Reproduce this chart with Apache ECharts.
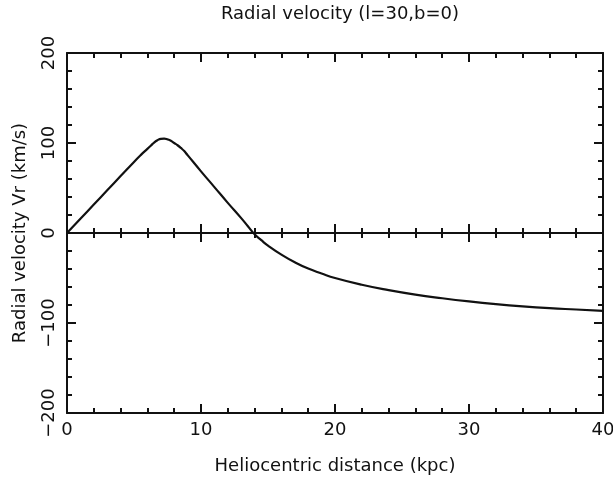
<!DOCTYPE html>
<html>
<head>
<meta charset="utf-8">
<script src="https://cdn.jsdelivr.net/npm/echarts@6/dist/echarts.min.js"></script>
<style>
  html, body { margin: 0; padding: 0; background: #fff; }
  #chart { width: 613px; height: 484px; }
</style>
</head>
<body>
<div id="chart"></div>
<script>
// Radial velocity along the line of sight l=30, b=0
const distanceKpc = [0, 1, 2, 3, 4, 5, 5.5, 6, 6.25, 6.5, 6.75, 7, 7.25, 7.5, 7.75, 8, 8.25, 8.5, 8.75, 9, 10, 11, 12, 13, 13.5, 14, 14.5, 15, 16, 17, 18, 19, 20, 22, 24, 26, 28, 30, 32, 34, 36, 38, 40];
const radialVelocity = [0, 15.8, 31.6, 47.4, 63.2, 79, 86.5, 93.5, 97, 100.5, 103, 104.6, 104.8, 104, 102.5, 100, 97.5, 94.5, 91, 86.5, 68.5, 51, 33.5, 16.5, 7.5, -1.5, -8, -14, -24, -32.5, -39.5, -45, -50, -57.5, -63.5, -68.5, -72.5, -76, -79, -81.5, -83.5, -85, -86.5];

const xRange = [0, 40];
const yRange = [-200, 200];
const xStep = 10;
const yStep = 100;

const ink = '#111';
const fontFamily = 'DejaVu Sans';

const points = distanceKpc.map((d, i) => [d, radialVelocity[i]]);
const minus = v => String(v).replace('-', '\u2212');

function frameX(position, extra) {
  return Object.assign({
    type: 'value', gridIndex: 0, position: position,
    min: xRange[0], max: xRange[1], interval: xStep,
    axisLine: { show: true, onZero: false, lineStyle: { color: ink, width: 2 } },
    axisTick: { show: true, inside: true, length: 9, lineStyle: { color: ink, width: 2 } },
    minorTick: { show: true, splitNumber: 5, length: 5, lineStyle: { color: ink, width: 2 } },
    axisLabel: { show: false },
    splitLine: { show: false }, minorSplitLine: { show: false }
  }, extra || {});
}

function frameY(position, extra) {
  return Object.assign({
    type: 'value', gridIndex: 0, position: position,
    min: yRange[0], max: yRange[1], interval: yStep,
    axisLine: { show: true, onZero: false, lineStyle: { color: ink, width: 2 } },
    axisTick: { show: true, inside: true, length: 9, lineStyle: { color: ink, width: 2 } },
    minorTick: { show: true, splitNumber: 5, length: 5, lineStyle: { color: ink, width: 2 } },
    axisLabel: { show: false },
    splitLine: { show: false }, minorSplitLine: { show: false }
  }, extra || {});
}

const chart = echarts.init(document.getElementById('chart'), null, { renderer: 'canvas' });

chart.setOption({
  animation: false,
  backgroundColor: '#fff',
  textStyle: { fontFamily: fontFamily, color: ink },
  title: {
    text: 'Radial velocity (l=30,b=0)',
    left: 335, top: 0, textAlign: 'center',
    textStyle: { fontFamily: fontFamily, fontSize: 18, fontWeight: 'normal', color: ink }
  },
  grid: { left: 67, right: 10, top: 53, bottom: 71, containLabel: false, outerBoundsMode: 'none' },
  xAxis: [
    frameX('bottom', {
      name: 'Heliocentric distance (kpc)',
      nameLocation: 'middle', nameGap: 44,
      nameTextStyle: { fontFamily: fontFamily, fontSize: 18, color: ink },
      axisLabel: { show: true, margin: 8, fontFamily: fontFamily, fontSize: 18, color: ink, formatter: minus }
    }),
    frameX('top'),
    // zero line: two axes on y=0, ticks pointing up and down
    frameX('bottom', { axisLine: { show: true, onZero: true, onZeroAxisIndex: 0, lineStyle: { color: ink, width: 2 } } }),
    frameX('top', { axisLine: { show: true, onZero: true, onZeroAxisIndex: 0, lineStyle: { color: ink, width: 2 } } })
  ],
  yAxis: [
    frameY('left', {
      name: 'Radial velocity Vr (km/s)',
      nameLocation: 'middle', nameGap: 38, nameRotate: 90,
      nameTextStyle: { fontFamily: fontFamily, fontSize: 18, color: ink },
      axisLabel: { show: true, rotate: 90, margin: 9, fontFamily: fontFamily, fontSize: 18, color: ink, formatter: minus }
    }),
    frameY('right')
  ],
  series: [{
    type: 'line',
    xAxisIndex: 0, yAxisIndex: 0,
    data: points,
    showSymbol: false,
    smooth: 0.5,
    lineStyle: { color: ink, width: 2.2 },
    z: 5
  }]
});
</script>
</body>
</html>
